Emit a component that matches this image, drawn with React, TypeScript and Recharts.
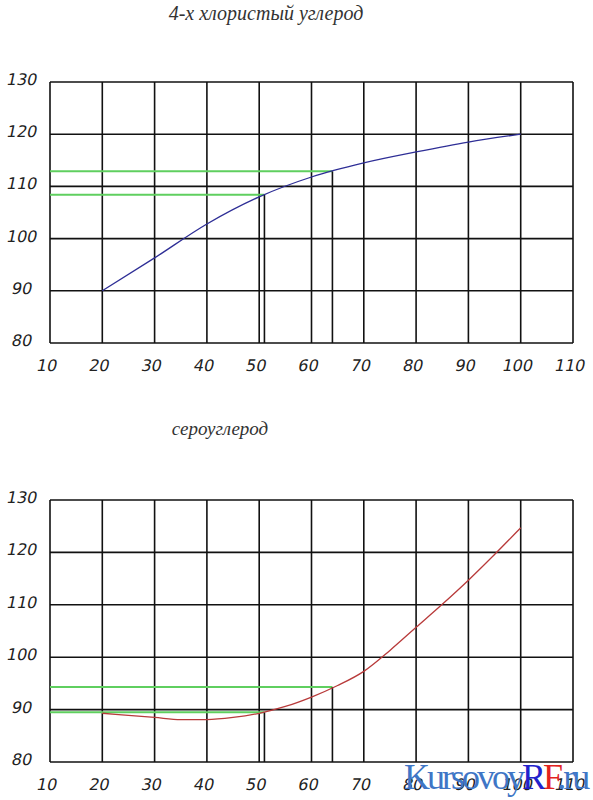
import { LineChart, Line, XAxis, YAxis, CartesianGrid } from "recharts";

// axis ticks (both charts share them)
const xTicks = [10, 20, 30, 40, 50, 60, 70, 80, 90, 100, 110];
const yTicks = [80, 90, 100, 110, 120, 130];

// 4-х хлористый углерод
const ccl4X = [20, 30, 40, 50, 60, 70, 80, 90, 100];
const ccl4Y = [90, 96.3, 102.8, 108, 111.8, 114.5, 116.6, 118.5, 120];
const ccl4ReadX = [51, 64];
const ccl4ReadY = [108.4, 112.9];

// сероуглерод
const cs2X = [20, 25, 30, 35, 40, 45, 50, 55, 60, 65, 70, 75, 80, 85, 90, 95, 100];
const cs2Y = [89.3, 88.9, 88.5, 88.1, 88.1, 88.5, 89.3, 90.6, 92.4, 94.6, 97.3, 101.3, 105.7, 110.1, 114.7, 119.6, 124.7];
const cs2ReadX = [51, 64];
const cs2ReadY = [89.5, 94.3];

const curve = (xs: number[], ys: number[]) => xs.map((x, i) => ({ x, y: ys[i] }));

const W = 593;
const labelFont = "'DejaVu Sans', sans-serif";

// oblique digits: skew by hand so it doesn't depend on an installed italic face
function XTick({ x, y, payload }: any) {
  return (
    <text
      transform={`translate(${x - 4},${y + 28}) skewX(-12)`}
      textAnchor="middle"
      fontFamily={labelFont}
      fontSize={16}
      fill="#222"
    >
      {payload.value}
    </text>
  );
}

function YTick({ x, y, payload }: any) {
  return (
    <text
      transform={`translate(${x - 29},${y + 3}) skewX(-12)`}
      textAnchor="middle"
      fontFamily={labelFont}
      fontSize={16}
      fill="#222"
    >
      {payload.value}
    </text>
  );
}

function Plot({ points, color, readX, readY, height, bottom }: {
  points: { x: number; y: number }[];
  color: string;
  readX: number[];
  readY: number[];
  height: number;
  bottom: number;
}) {
  return (
    <LineChart width={W} height={height} margin={{ top: 82, right: 20, bottom: 0, left: 0 }}>
      <CartesianGrid stroke="#111" strokeWidth={1.6} />
      <XAxis
        dataKey="x"
        type="number"
        domain={[10, 110]}
        ticks={xTicks}
        axisLine={false}
        tickLine={false}
        tickSize={0}
        tickMargin={0}
        height={bottom}
        tick={<XTick />}
        allowDataOverflow
      />
      <YAxis
        type="number"
        domain={[80, 130]}
        ticks={yTicks}
        axisLine={false}
        tickLine={false}
        tickSize={0}
        tickMargin={0}
        width={50}
        tick={<YTick />}
        allowDataOverflow
      />
      {readX.map((rx, i) => (
        <Line
          key={"g" + i}
          data={[{ x: 10, y: readY[i] }, { x: rx, y: readY[i] }]}
          dataKey="y"
          type="linear"
          stroke="#5fcf5f"
          strokeWidth={2}
          dot={false}
          isAnimationActive={false}
        />
      ))}
      {readX.map((rx, i) => (
        <Line
          key={"v" + i}
          data={[{ x: rx, y: 80 }, { x: rx, y: readY[i] }]}
          dataKey="y"
          type="linear"
          stroke="#111"
          strokeWidth={1.6}
          dot={false}
          isAnimationActive={false}
        />
      ))}
      <Line
        data={points}
        dataKey="y"
        type="monotone"
        stroke={color}
        strokeWidth={1.3}
        dot={false}
        isAnimationActive={false}
      />
    </LineChart>
  );
}

export default function App() {
  return (
    <div style={{ position: "absolute", left: 0, top: 0, width: W, height: 800, background: "#fff", overflow: "hidden" }}>
      <div style={{ position: "absolute", left: 0, top: 0 }}>
        <Plot points={curve(ccl4X, ccl4Y)} color="#2e2e96" readX={ccl4ReadX} readY={ccl4ReadY} height={400} bottom={57} />
      </div>
      <div style={{ position: "absolute", left: 0, top: 418 }}>
        <Plot points={curve(cs2X, cs2Y)} color="#b83a3a" readX={cs2ReadX} readY={cs2ReadY} height={382} bottom={38} />
      </div>
      <svg width={W} height={800} style={{ position: "absolute", left: 0, top: 0, pointerEvents: "none" }}>
        <text x={266} y={20} textAnchor="middle" fontFamily="'Liberation Serif', serif" fontStyle="italic" fontSize={20} fill="#333">
          4-х хлористый углерод
        </text>
        <text x={220} y={435} textAnchor="middle" fontFamily="'Liberation Serif', serif" fontStyle="italic" fontSize={19} fill="#333">
          сероуглерод
        </text>
        <text x={404} y={789} fontFamily="'Liberation Serif', serif" fontSize={36} letterSpacing={-3} fill="#3f76c6">
          Kursovoy<tspan fill="#2222cc">R</tspan><tspan fill="#e3231f">F</tspan>.ru
        </text>
      </svg>
    </div>
  );
}
